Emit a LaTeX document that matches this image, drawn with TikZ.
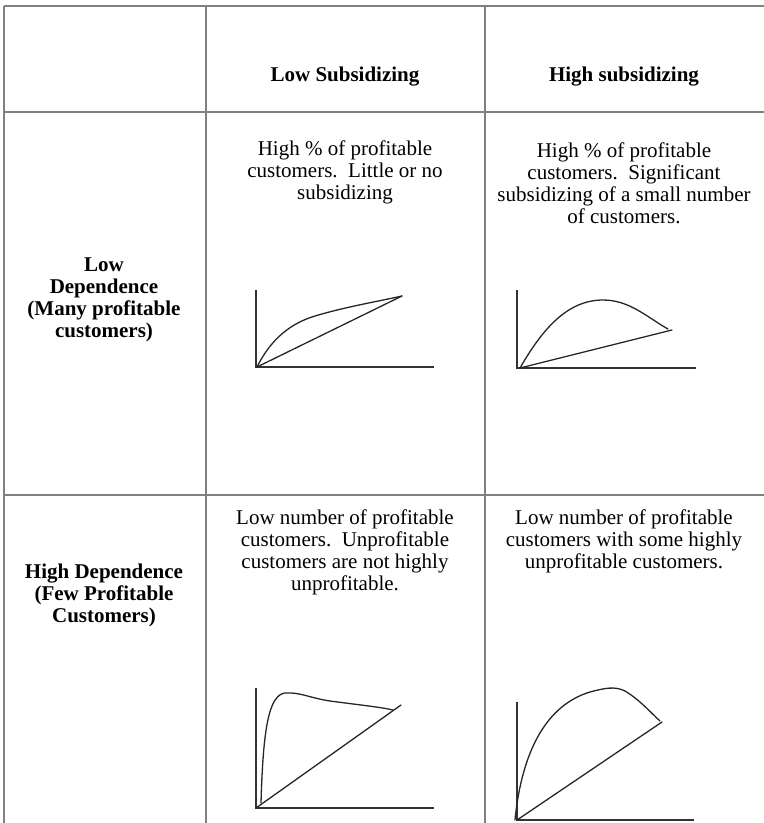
\documentclass[tikz,border=0pt]{standalone}
\usepackage{fontspec}
\setmainfont{Liberation Serif}
\begin{document}
\begin{tikzpicture}[x=1pt,y=-1pt,
  gridline/.style={draw=black!50, line width=1.3pt},
  axisline/.style={draw=black!80, line width=1.8pt},
  curveline/.style={draw=black!85, line width=1.3pt, line cap=round, line join=round},
  cell/.style={align=center, font=\fontsize{21}{22}\selectfont, inner sep=0pt},
  headcell/.style={align=center, font=\fontsize{21}{22}\selectfont\bfseries, inner sep=0pt}]
\useasboundingbox (0,0) rectangle (764,823);
% table grid
\draw[gridline] (4,6) -- (764,6);
\draw[gridline] (4,112) -- (764,112);
\draw[gridline] (4,495) -- (764,495);
\draw[gridline] (4,6) -- (4,823);
\draw[gridline] (206,6) -- (206,823);
\draw[gridline] (485,6) -- (485,823);
% headers
\node[headcell] (h1) at (345,77) {Low Subsidizing};
\node[headcell] (h2) at (624,77) {High subsidizing};
\node[headcell] (r1) at (104,300) {Low\\Dependence\\(Many profitable\\customers)};
\node[headcell] (r2) at (104,595) {High Dependence\\(Few Profitable\\Customers)};
% cell texts
\node[cell] (c11) at (345,172) {High \% of profitable\\customers.\ \ Little or no\\subsidizing};
\node[cell] (c12) at (624,183) {High \% of profitable\\customers.\ \ Significant\\subsidizing of a small number\\of customers.};
\node[cell] (c21) at (345,552) {Low number of profitable\\customers.\ \ Unprofitable\\customers are not highly\\unprofitable.};
\node[cell] (c22) at (624,541) {Low number of profitable\\customers with some highly\\unprofitable customers.};
% plot row 1, col 2
\coordinate (o11) at (256,367);
\draw[axisline] (256,290) -- (o11) -- (434,367);
\draw[curveline] (257,367) -- (402,296);
\draw[curveline] (257,367) .. controls (268,345) and (285,325) .. (315,316) .. controls (345,307) and (375,302) .. (402,296);
% plot row 1, col 3
\coordinate (o12) at (517,368);
\draw[axisline] (517,290) -- (o12) -- (696,368);
\draw[curveline] (520,368) -- (672,330);
\draw[curveline] (520,368) .. controls (543,328) and (568,300) .. (603,300) .. controls (630,300) and (648,318) .. (668,329);
% plot row 2, col 2
\coordinate (o21) at (256,808);
\draw[axisline] (256,688) -- (o21) -- (434,808);
\draw[curveline] (256,808) -- (401,705);
\draw[curveline] (261,803) .. controls (263,733) and (268,695) .. (285,693) .. controls (300,692) and (310,698) .. (330,701) .. controls (360,705) and (380,707) .. (393,710);
% plot row 2, col 3
\coordinate (o22) at (517,820);
\draw[axisline] (517,702) -- (o22) -- (694,820);
\draw[curveline] (517,820) -- (662,722);
\draw[curveline] (515,820) .. controls (522,750) and (547,705) .. (590,692) .. controls (605,688) and (615,686) .. (625,691) .. controls (640,700) and (650,712) .. (660,721);
\end{tikzpicture}
\end{document}
